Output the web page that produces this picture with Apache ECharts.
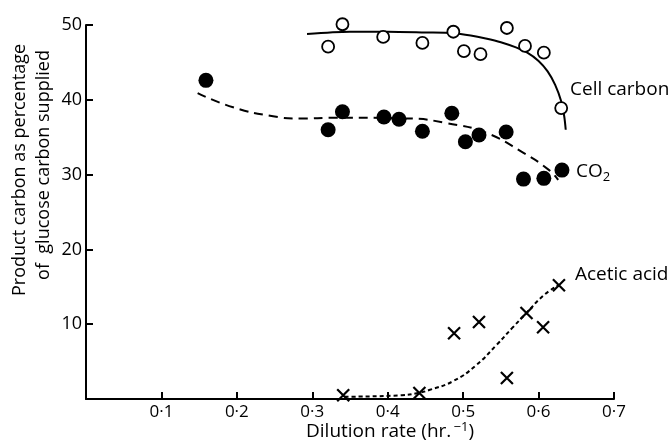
<!DOCTYPE html>
<html>
<head>
<meta charset="utf-8">
<style>html,body{margin:0;padding:0;background:#fff}#c{width:672px;height:443px}</style>
<script src="https://cdn.jsdelivr.net/npm/echarts@6/dist/echarts.min.js"></script>
</head>
<body>
<div id="c"></div>
<script>
// Observed data
const cellCarbonPts = [[0.321,47.1],[0.340,50.1],[0.394,48.4],[0.446,47.6],[0.487,49.1],[0.501,46.5],[0.523,46.1],[0.558,49.6],[0.582,47.2],[0.607,46.3],[0.630,38.9]];
const co2Pts = [[0.159,42.6],[0.321,36.0],[0.340,38.4],[0.395,37.7],[0.415,37.4],[0.446,35.8],[0.485,38.2],[0.503,34.4],[0.521,35.3],[0.557,35.7],[0.580,29.4],[0.607,29.5],[0.631,30.6]];
const aceticPts = [[0.341,0.5],[0.442,0.8],[0.488,8.8],[0.521,10.3],[0.558,2.8],[0.584,11.5],[0.606,9.6],[0.627,15.2]];
// Fitted curves
const cellCarbonCurve = [[0.293,48.8],[0.35,49.1],[0.40,49.1],[0.45,49.0],[0.487,48.9],[0.510,48.6],[0.530,48.2],[0.550,47.7],[0.570,47.0],[0.585,46.3],[0.600,45.2],[0.612,43.8],[0.622,42.0],[0.630,39.8],[0.634,37.8],[0.636,36.0]];
const co2Curve = [[0.148,40.9],[0.195,39.0],[0.248,37.8],[0.284,37.5],[0.330,37.6],[0.428,37.5],[0.477,36.9],[0.530,35.6],[0.580,32.9],[0.614,30.6],[0.626,29.3]];
const aceticCurve = [[0.343,0.3],[0.419,0.5],[0.440,0.8],[0.455,1.2],[0.487,2.4],[0.517,4.5],[0.544,7.2],[0.566,9.6],[0.584,11.5],[0.606,13.8],[0.626,15.2]];
const xTicks = [0.1,0.2,0.3,0.4,0.5,0.6,0.7];
const yTicks = [10,20,30,40,50];

const FONT = 'Open Sans';
const chart = echarts.init(document.getElementById('c'), null, {renderer:'canvas'});
const crossPath = 'path://M0,0L10,10M10,0L0,10';
chart.setOption({
  backgroundColor:'#fff',
  animation:false,
  grid:{left:86,right:58,top:25,bottom:44,containLabel:false},
  xAxis:{type:'value',min:0,max:0.7,interval:0.1,
    axisLine:{show:true,onZero:false,lineStyle:{color:'#000',width:2}},
    axisTick:{show:true,inside:true,length:7,lineStyle:{color:'#000',width:2},
      customValues: xTicks},
    axisLabel:{color:'#000',fontFamily:FONT,fontSize:17,margin:5,
      customValues: xTicks,
      formatter:v=> v===0?'':v.toFixed(1).replace('.','\u00b7')},
    splitLine:{show:false}},
  yAxis:{type:'value',min:0,max:50,interval:10,
    axisLine:{show:true,onZero:false,lineStyle:{color:'#000',width:2}},
    axisTick:{show:true,inside:true,length:7,lineStyle:{color:'#000',width:2},customValues:yTicks},
    axisLabel:{color:'#000',fontFamily:FONT,fontSize:18,margin:4,customValues:yTicks,
      formatter:v=> v===0?'':String(v)},
    splitLine:{show:false}},
  graphic:[
    {type:'text',x:570,y:90,style:{text:'Cell carbon',fontFamily:FONT,fontSize:19,fill:'#000',align:'left',verticalAlign:'middle'}},
    {type:'text',x:576,y:172,style:{text:'CO{s|2}',fontFamily:FONT,fontSize:19,fill:'#000',align:'left',verticalAlign:'middle',
      rich:{s:{fontFamily:FONT,fontSize:13,fill:'#000',verticalAlign:'bottom',padding:[11,0,0,0]}}}},
    {type:'text',x:575,y:275,style:{text:'Acetic acid',fontFamily:FONT,fontSize:19,fill:'#000',align:'left',verticalAlign:'middle'}},
    {type:'text',x:20,y:170,rotation:Math.PI/2,style:{text:'Product carbon as percentage',fontFamily:FONT,fontSize:18,fill:'#000',align:'center',verticalAlign:'middle'}},
    {type:'text',x:44,y:165,rotation:Math.PI/2,style:{text:'of  glucose carbon supplied',fontFamily:FONT,fontSize:18,fill:'#000',align:'center',verticalAlign:'middle'}},
    {type:'text',x:390,y:432,style:{text:'Dilution rate (hr.{s|\u2009\u22121})',fontFamily:FONT,fontSize:19,fill:'#000',align:'center',verticalAlign:'middle',
      rich:{s:{fontFamily:FONT,fontSize:13,fill:'#000',verticalAlign:'top',padding:[0,0,9,0]}}}}
  ],
  series:[
    {type:'line',data:cellCarbonCurve,smooth:0.3,symbol:'none',lineStyle:{color:'#000',width:2},z:1},
    {type:'line',data:co2Curve,smooth:true,symbol:'none',lineStyle:{color:'#000',width:2,type:[9,6]},z:1},
    {type:'line',data:aceticCurve,smooth:true,symbol:'none',lineStyle:{color:'#000',width:2,type:[4,3]},z:1},
    {type:'scatter',clip:false,data:cellCarbonPts,symbol:'circle',symbolSize:12,itemStyle:{color:'#fff',borderColor:'#000',borderWidth:1.8,opacity:1},z:3},
    {type:'scatter',clip:false,data:co2Pts,symbol:'circle',symbolSize:15,itemStyle:{color:'#000',opacity:1},z:3},
    {type:'scatter',clip:false,data:aceticPts,symbol:crossPath,symbolSize:12,itemStyle:{color:'none',borderColor:'#000',borderWidth:2.2,opacity:1},z:3}
  ]
});
</script>
</body>
</html>
